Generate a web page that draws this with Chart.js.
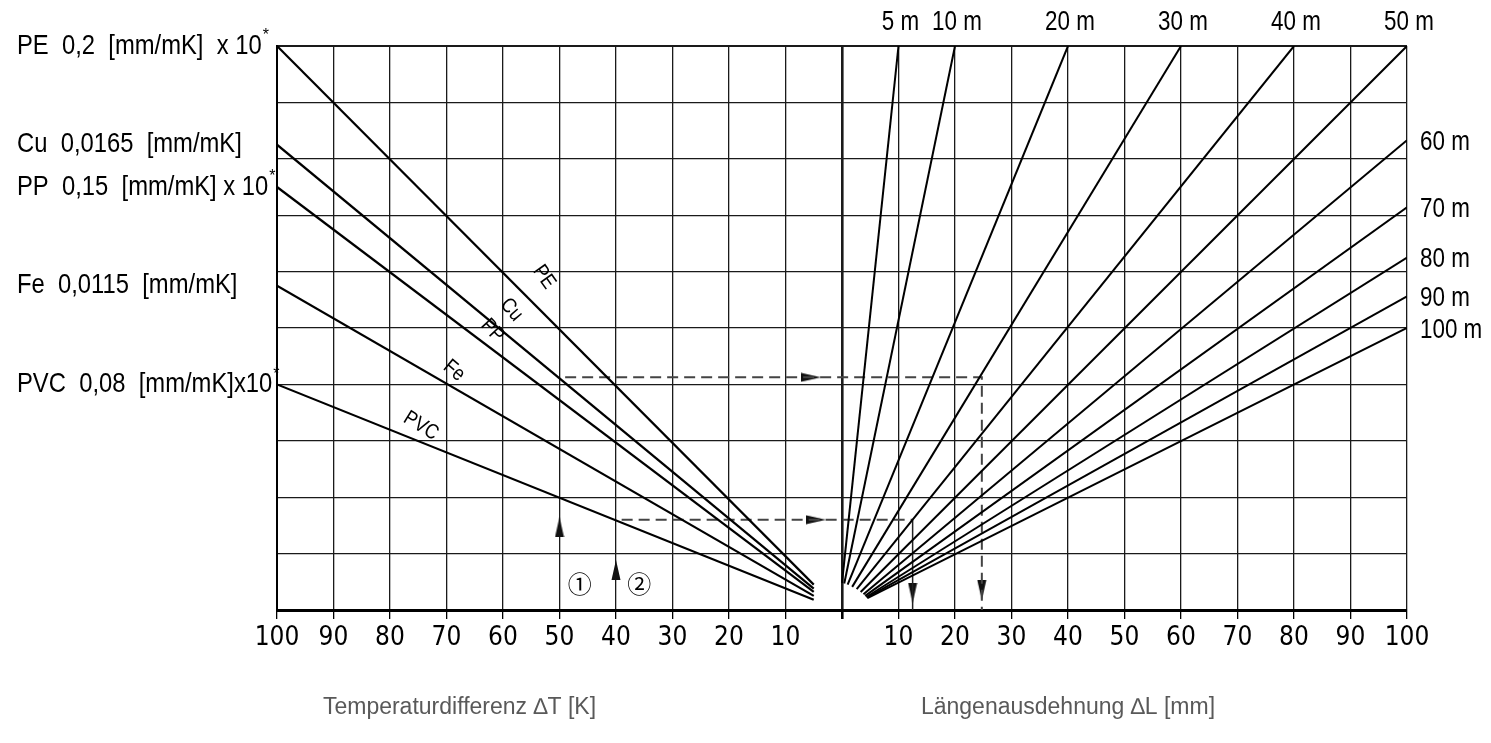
<!DOCTYPE html>
<html>
<head>
<meta charset="utf-8">
<script src="https://cdn.jsdelivr.net/npm/chart.js@4.4.0/dist/chart.umd.min.js"></script>
<style>
    html, body { margin: 0; padding: 0; background: #fff; }
    #chart { display: block; }
</style>
</head>
<body>
<canvas id="chart" width="1491" height="743"></canvas>
<script>
// Werkstoffe (linke Hälfte, Temperaturdifferenz)
const materials = ['PE', 'Cu', 'PP', 'Fe', 'PVC'];
const materialTexts = ['PE  0,2  [mm/mK]  x 10', 'Cu  0,0165  [mm/mK]', 'PP  0,15  [mm/mK] x 10', 'Fe  0,0115  [mm/mK]', 'PVC  0,08  [mm/mK]x10'];
const materialStar = [true, false, true, false, true];
const materialStartT = [100, 100, 100, 100, 100];
const materialStartY = [10, 8.25, 7.5, 5.75, 4.0];
const materialEndT = [5, 5, 5, 5, 5];
const materialEndY = [0.45, 0.38, 0.32, 0.25, 0.18];
const materialLabelT = [56, 61, 63.5, 70, 75.5];

// Rohrlängen (rechte Hälfte, Längenausdehnung)
const lengths = ['5 m', '10 m', '20 m', '30 m', '40 m', '50 m', '60 m', '70 m', '80 m', '90 m', '100 m'];
const lengthStartL = [0, 0.4, 1, 1.8, 2.6, 3.3, 3.8, 4.1, 4.3, 4.4, 4.5];
const lengthStartY = [0.48, 0.47, 0.45, 0.41, 0.37, 0.32, 0.28, 0.25, 0.23, 0.22, 0.21];
const lengthEndL = [10, 20, 40, 60, 80, 100, 100, 100, 100, 100, 100];
const lengthEndY = [10, 10, 10, 10, 10, 10, 8.33, 7.14, 6.25, 5.56, 5.0];

// Ablesebeispiele
const example1 = { t: 50, y: 4.125, l: 24.75 };
const example2 = { t: 40, y: 1.6, l: 12.5 };
const arrowX = [-50, -40, -5.5, -4.6, 24.75, 12.5];
const arrowY = [1.47, 0.71, 4.125, 1.6, 0.35, 0.3];
const arrowDir = [0, 0, 90, 90, 180, 180];
const markerNames = ['①', '②'];
const markerX = [-46.4, -35.9];
const markerY = [0.46, 0.46];

const tickStep = 10;
const titleLeft = 'Temperaturdifferenz ∆T [K]';
const titleRight = 'Längenausdehnung ∆L [mm]';

const TECH_FONT = '"Liberation Sans", Arial, sans-serif';

// Pfeilspitze als Punktstil
const arrowImg = document.createElement('canvas');
arrowImg.width = 10;
arrowImg.height = 20;
(function () {
    const a = arrowImg.getContext('2d');
    a.fillStyle = '#111';
    a.beginPath();
    a.moveTo(5, 0);
    a.lineTo(9.5, 20);
    a.lineTo(0.5, 20);
    a.closePath();
    a.fill();
})();

function drawText(ctx, text, x, y, size, align, sx, family) {
    ctx.save();
    ctx.font = size + 'px ' + (family || TECH_FONT);
    ctx.textBaseline = 'middle';
    ctx.textAlign = 'left';
    const w = ctx.measureText(text).width * sx;
    const x0 = align === 'center' ? x - w / 2 : align === 'right' ? x - w : x;
    ctx.translate(x0, y);
    ctx.scale(sx, 1);
    ctx.fillText(text, 0, 0);
    ctx.restore();
    return x0 + w;
}

const datasets = [];
materials.forEach((m, i) => {
    datasets.push({
        label: m,
        data: [{ x: -materialStartT[i], y: materialStartY[i] }, { x: -materialEndT[i], y: materialEndY[i] }],
        borderColor: '#000',
        borderWidth: 2.2,
        pointRadius: 0
    });
});
lengths.forEach((l, i) => {
    datasets.push({
        label: l,
        data: [{ x: lengthStartL[i], y: lengthStartY[i] }, { x: lengthEndL[i], y: lengthEndY[i] }],
        borderColor: '#000',
        borderWidth: 2,
        pointRadius: 0
    });
});
datasets.push({
    label: 'Beispiel 1',
    data: [{ x: -example1.t + 1, y: example1.y }, { x: example1.l, y: example1.y }, { x: example1.l, y: 0 }],
    borderColor: '#444',
    borderWidth: 2,
    borderDash: [11, 6],
    pointRadius: 0
});
datasets.push({
    label: 'Beispiel 2',
    data: [{ x: -example2.t + 1, y: example2.y }, { x: example2.l, y: example2.y }],
    borderColor: '#444',
    borderWidth: 2,
    borderDash: [11, 6],
    pointRadius: 0
});
datasets.push({
    label: 'Beispiel 2 Ergebnis',
    data: [{ x: example2.l, y: example2.y }, { x: example2.l, y: 0 }],
    borderColor: '#222',
    borderWidth: 1.5,
    pointRadius: 0
});
datasets.push({
    label: 'Pfeile',
    type: 'scatter',
    data: arrowX.map((x, i) => ({ x: x, y: arrowY[i] })),
    pointStyle: arrowImg,
    pointRotation: arrowDir,
    pointRadius: 10,
    showLine: false
});

// Texte: Werkstoffe, Rohrlängen, Achsentitel
const labelsPlugin = {
    id: 'nomogramLabels',
    afterDatasetsDraw(chart) {
        const ctx = chart.ctx;
        const xs = chart.scales.x;
        const ys = chart.scales.y;
        ctx.fillStyle = '#000';

        // Werkstoffbeschriftung links
        materials.forEach((m, i) => {
            const py = ys.getPixelForValue(materialStartY[i]);
            const end = drawText(ctx, materialTexts[i], 17, py, 28, 'left', 0.85);
            if (materialStar[i]) drawText(ctx, '*', end + 1, py - 10, 16, 'left', 1);
        });

        // Beschriftung an den Linien
        const offsets = [26, 22, 15, 15, 15];
        materials.forEach((m, i) => {
            const x0 = xs.getPixelForValue(-materialStartT[i]);
            const y0 = ys.getPixelForValue(materialStartY[i]);
            const x1 = xs.getPixelForValue(-materialEndT[i]);
            const y1 = ys.getPixelForValue(materialEndY[i]);
            const ang = Math.atan2(y1 - y0, x1 - x0);
            const px = xs.getPixelForValue(-materialLabelT[i]);
            const py = y0 + (px - x0) * (y1 - y0) / (x1 - x0);
            ctx.save();
            ctx.translate(px + Math.sin(ang) * offsets[i], py - Math.cos(ang) * offsets[i]);
            ctx.rotate(ang + 0.17);
            drawText(ctx, m, 0, 0, 21, 'center', 0.85);
            ctx.restore();
        });

        // Rohrlängen oben und rechts
        lengths.forEach((l, i) => {
            const px = xs.getPixelForValue(lengthEndL[i]);
            const py = ys.getPixelForValue(lengthEndY[i]);
            if (lengthEndY[i] >= 10) {
                drawText(ctx, l, px + 2, 22, 28, 'center', 0.8);
            } else {
                drawText(ctx, l, px + 13, py + 2, 28, 'left', 0.8);
            }
        });

        // Kreisnummern
        markerNames.forEach((n, i) => {
            drawText(ctx, n, xs.getPixelForValue(markerX[i]), ys.getPixelForValue(markerY[i]), 24, 'center', 1,
                '"Noto Sans CJK JP", "DejaVu Sans", sans-serif');
        });

        // Achsentitel
        ctx.fillStyle = '#595959';
        drawText(ctx, titleLeft, xs.getPixelForValue(-50) - 100, 708, 23, 'center', 1);
        drawText(ctx, titleRight, xs.getPixelForValue(40), 708, 23, 'center', 1);
    }
};

new Chart(document.getElementById('chart'), {
    type: 'line',
    data: { datasets: datasets },
    options: {
        responsive: false,
        animation: false,
        devicePixelRatio: 1,
        layout: { padding: { left: 277, right: 84, top: 46, bottom: 0 } },
        plugins: {
            legend: { display: false },
            tooltip: { enabled: false }
        },
        scales: {
            x: {
                type: 'linear',
                min: -100,
                max: 100,
                afterFit: s => { s.height = 133; },
                ticks: {
                    stepSize: tickStep,
                    autoSkip: false,
                    maxRotation: 0,
                    padding: 4,
                    color: '#000',
                    font: { family: '"Liberation Sans Narrow", "DejaVu Sans Condensed", "Liberation Sans", sans-serif', size: 26 },
                    callback: v => v === 0 ? '' : Math.abs(v)
                },
                grid: {
                    color: '#1a1a1a',
                    lineWidth: c => (c.tick && c.tick.value === 0) ? 2.6 : 1.3,
                    tickLength: 9,
                    tickColor: '#000'
                },
                border: { color: '#000', width: 3 }
            },
            y: {
                min: 0,
                max: 10,
                afterFit: s => { s.width = 0; },
                ticks: { display: false, stepSize: 1 },
                grid: {
                    color: '#1a1a1a',
                    lineWidth: c => (c.tick && c.tick.value === 10) ? 2 : 1.3,
                    drawTicks: false
                },
                border: { color: '#000', width: 2 }
            }
        }
    },
    plugins: [labelsPlugin]
});
</script>
</body>
</html>
